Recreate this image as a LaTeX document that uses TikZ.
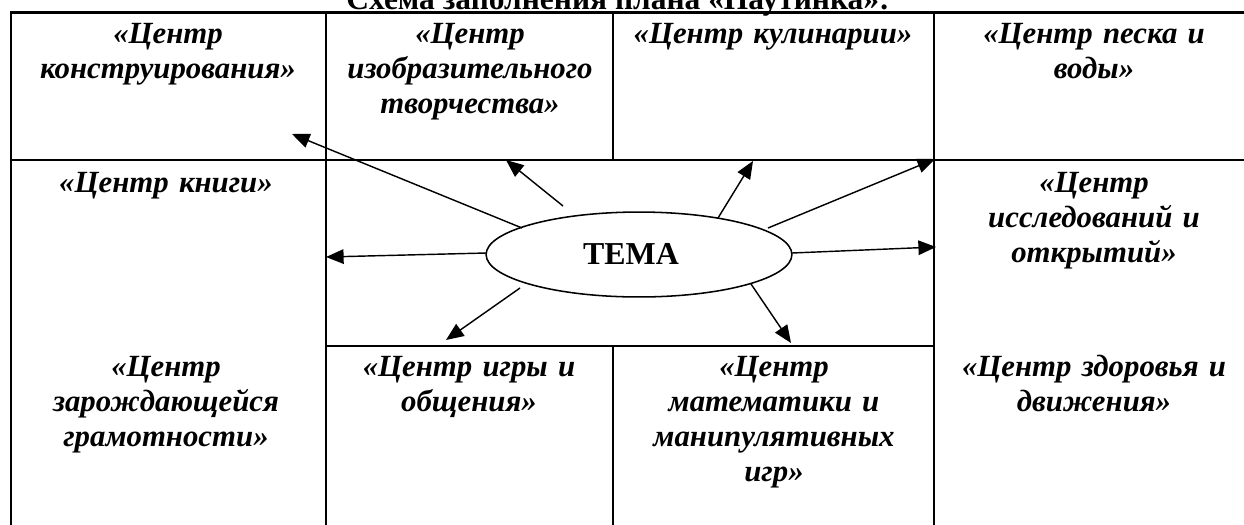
\documentclass[tikz,border=0pt]{standalone}
\usepackage{fontspec}
\setmainfont{Liberation Serif}
\usetikzlibrary{arrows.meta,shapes.geometric}
\begin{document}
\begin{tikzpicture}[x=0.4545pt,y=-0.4545pt,
  grid/.style={line width=0.95pt},
  celltext/.style={anchor=base,text width=150pt,align=center,inner sep=0pt,
    font=\fontsize{14pt}{16pt}\selectfont\bfseries\itshape},
  arr/.style={line width=0.65pt,-{Triangle[length=8pt,width=6.6pt]}},
  themebox/.style={ellipse,draw,line width=0.7pt,minimum width=139pt,minimum height=38.6pt,inner sep=0pt}]
\useasboundingbox (0,0) rectangle (1244,524);
\begin{scope}
\clip (0,0) rectangle (1244,524);
% title (partly cut off at the top, as in the reference)
\node[anchor=base,inner sep=0pt,font=\fontsize{14.3pt}{16pt}\selectfont\bfseries] (title) at (618,9) {Схема заполнения плана «Паутинка»:};
% table
\draw[grid] (11,540) -- (11,12.5) -- (1256,12.5) -- (1256,540);
\draw[grid] (11,160) -- (1256,160);
\draw[grid] (326,12.5) -- (326,540);
\draw[grid] (934,12.5) -- (934,540);
\draw[grid] (613,12.5) -- (613,160);
\draw[grid] (326,346) -- (934,346);
\draw[grid] (613,346) -- (613,540);
\end{scope}
% cell texts
\node[celltext] (c1) at (168,43) {«Центр\\конструирования»};
\node[celltext] (c2) at (470,43) {«Центр\\изобразительного\\творчества»};
\node[celltext] (c3) at (773,43) {«Центр кулинарии»};
\node[celltext] (c4) at (1094,43) {«Центр песка и\\воды»};
\node[celltext] (c5) at (166,192) {«Центр книги»};
\node[celltext] (c6) at (1094,192) {«Центр\\исследований и\\открытий»};
\node[celltext] (c7) at (166,376) {«Центр\\зарождающейся\\грамотности»};
\node[celltext] (c8) at (469,376) {«Центр игры и\\общения»};
\node[celltext] (c9) at (774,376) {«Центр\\математики и\\манипулятивных\\игр»};
\node[celltext] (c10) at (1094,376) {«Центр здоровья и\\движения»};
% theme
\node[themebox] (tema) at (639,254.5) {};
\node[inner sep=0pt,font=\fontsize{14.5pt}{16pt}\selectfont\bfseries] (temat) at (631,254) {ТЕМА};
% arrow coordinates
\coordinate (s1) at (522,228); \coordinate (t1) at (292,134);
\coordinate (s2) at (563,206); \coordinate (t2) at (506,160);
\coordinate (s3) at (718,218); \coordinate (t3) at (753,161);
\coordinate (s4) at (768,228); \coordinate (t4) at (935,159);
\coordinate (s5) at (792,253); \coordinate (t5) at (936,247);
\coordinate (s6) at (751,284); \coordinate (t6) at (791,343);
\coordinate (s7) at (486,253); \coordinate (t7) at (326,257);
\coordinate (s8) at (520,288); \coordinate (t8) at (446,340);
\foreach \i in {1,...,8} {\draw[arr] (s\i) -- (t\i);}
\end{tikzpicture}
\end{document}
